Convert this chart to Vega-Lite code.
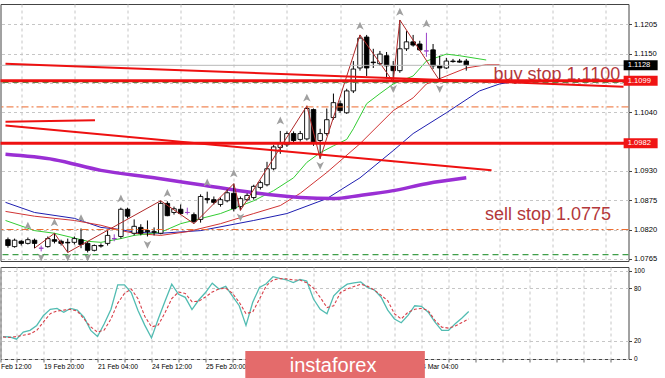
{
"$schema": "https://vega.github.io/schema/vega-lite/v6.json",
"padding": {"left": -1.5, "top": 3, "right": 0, "bottom": 0},
"spacing": 3,
"background": "white",
"datasets": {
"candles": [
{"i":0,"o":1.0801,"h":1.0805,"l":1.0786,"c":1.0790},
{"i":1,"o":1.0788,"h":1.0803,"l":1.0786,"c":1.0800},
{"i":2,"o":1.0798,"h":1.0800,"l":1.0790,"c":1.0794},
{"i":3,"o":1.0794,"h":1.0805,"l":1.0792,"c":1.0801},
{"i":4,"o":1.0800,"h":1.0803,"l":1.0785,"c":1.0794},
{"i":5,"o":1.0785,"h":1.0790,"l":1.0779,"c":1.0785},
{"i":6,"o":1.0788,"h":1.0807,"l":1.0786,"c":1.0803},
{"i":7,"o":1.0801,"h":1.0813,"l":1.0794,"c":1.0798},
{"i":8,"o":1.0798,"h":1.0801,"l":1.0790,"c":1.0794},
{"i":9,"o":1.0796,"h":1.0803,"l":1.0777,"c":1.0795},
{"i":10,"o":1.0796,"h":1.0807,"l":1.0792,"c":1.0803},
{"i":11,"o":1.0801,"h":1.0822,"l":1.0785,"c":1.0792},
{"i":12,"o":1.0794,"h":1.0798,"l":1.0777,"c":1.0781},
{"i":13,"o":1.0781,"h":1.0792,"l":1.0779,"c":1.0790},
{"i":14,"o":1.0790,"h":1.0794,"l":1.0786,"c":1.0789},
{"i":15,"o":1.0794,"h":1.0818,"l":1.0790,"c":1.0809},
{"i":16,"o":1.0803,"h":1.0811,"l":1.0798,"c":1.0803},
{"i":17,"o":1.0807,"h":1.0861,"l":1.0803,"c":1.0858},
{"i":18,"o":1.0858,"h":1.0861,"l":1.0841,"c":1.0845},
{"i":19,"o":1.0813,"h":1.0839,"l":1.0809,"c":1.0826},
{"i":20,"o":1.0824,"h":1.0830,"l":1.0809,"c":1.0813},
{"i":21,"o":1.0818,"h":1.0837,"l":1.0807,"c":1.0816},
{"i":22,"o":1.0816,"h":1.0824,"l":1.0809,"c":1.0815},
{"i":23,"o":1.0813,"h":1.0874,"l":1.0811,"c":1.0869},
{"i":24,"o":1.0869,"h":1.0873,"l":1.0845,"c":1.0846},
{"i":25,"o":1.0852,"h":1.0863,"l":1.0848,"c":1.0859},
{"i":26,"o":1.0858,"h":1.0867,"l":1.0848,"c":1.0850},
{"i":27,"o":1.0852,"h":1.0861,"l":1.0848,"c":1.0852},
{"i":28,"o":1.0848,"h":1.0852,"l":1.0831,"c":1.0835},
{"i":29,"o":1.0839,"h":1.0886,"l":1.0833,"c":1.0882},
{"i":30,"o":1.0878,"h":1.0891,"l":1.0869,"c":1.0876},
{"i":31,"o":1.0876,"h":1.0882,"l":1.0867,"c":1.0871},
{"i":32,"o":1.0867,"h":1.0880,"l":1.0863,"c":1.0876},
{"i":33,"o":1.0874,"h":1.0895,"l":1.0871,"c":1.0889},
{"i":34,"o":1.0888,"h":1.0906,"l":1.0854,"c":1.0859},
{"i":35,"o":1.0863,"h":1.0882,"l":1.0856,"c":1.0878},
{"i":36,"o":1.0876,"h":1.0888,"l":1.0873,"c":1.0884},
{"i":37,"o":1.0880,"h":1.0904,"l":1.0876,"c":1.0901},
{"i":38,"o":1.0899,"h":1.0912,"l":1.0895,"c":1.0908},
{"i":39,"o":1.0904,"h":1.0947,"l":1.0901,"c":1.0934},
{"i":40,"o":1.0934,"h":1.0979,"l":1.0931,"c":1.0975},
{"i":41,"o":1.0974,"h":1.1005,"l":1.0962,"c":1.0981},
{"i":42,"o":1.0979,"h":1.1004,"l":1.0975,"c":1.1000},
{"i":43,"o":1.1000,"h":1.1004,"l":1.0983,"c":1.0987},
{"i":44,"o":1.0989,"h":1.1005,"l":1.0985,"c":1.1000},
{"i":45,"o":1.0990,"h":1.1052,"l":1.0987,"c":1.1047},
{"i":46,"o":1.1045,"h":1.1047,"l":1.0977,"c":1.0983},
{"i":47,"o":1.0987,"h":1.1009,"l":1.0953,"c":1.1000},
{"i":48,"o":1.1000,"h":1.1047,"l":1.0996,"c":1.1026},
{"i":49,"o":1.1030,"h":1.1075,"l":1.1026,"c":1.1058},
{"i":50,"o":1.1056,"h":1.1062,"l":1.1039,"c":1.1043},
{"i":51,"o":1.1039,"h":1.1084,"l":1.1037,"c":1.1080},
{"i":52,"o":1.1080,"h":1.1136,"l":1.1076,"c":1.1121},
{"i":53,"o":1.1123,"h":1.1185,"l":1.1118,"c":1.1179},
{"i":54,"o":1.1181,"h":1.1185,"l":1.1108,"c":1.1123},
{"i":55,"o":1.1134,"h":1.1159,"l":1.1123,"c":1.1133},
{"i":56,"o":1.1131,"h":1.1155,"l":1.1127,"c":1.1149},
{"i":57,"o":1.1146,"h":1.1153,"l":1.1103,"c":1.1127},
{"i":58,"o":1.1127,"h":1.1136,"l":1.1097,"c":1.1118},
{"i":59,"o":1.1118,"h":1.1213,"l":1.1114,"c":1.1159},
{"i":60,"o":1.1159,"h":1.1192,"l":1.1155,"c":1.1172},
{"i":61,"o":1.1172,"h":1.1185,"l":1.1163,"c":1.1166},
{"i":62,"o":1.1168,"h":1.1174,"l":1.1155,"c":1.1157},
{"i":63,"o":1.1155,"h":1.1189,"l":1.1144,"c":1.1155},
{"i":64,"o":1.1157,"h":1.1168,"l":1.1121,"c":1.1127},
{"i":65,"o":1.1127,"h":1.1146,"l":1.1099,"c":1.1123},
{"i":66,"o":1.1123,"h":1.1142,"l":1.1121,"c":1.1136},
{"i":67,"o":1.1136,"h":1.1140,"l":1.1133,"c":1.1135},
{"i":68,"o":1.1136,"h":1.1140,"l":1.1133,"c":1.1134},
{"i":69,"o":1.1136,"h":1.1140,"l":1.1118,"c":1.1128}
],
"alligator": [
{"s":"jaw","i":-0.37,"p":1.0871},{"s":"jaw","i":4,"p":1.0852},{"s":"jaw","i":10,"p":1.0841},{"s":"jaw","i":14,"p":1.0824},{"s":"jaw","i":17,"p":1.0820},{"s":"jaw","i":19,"p":1.0815},{"s":"jaw","i":23,"p":1.0813},{"s":"jaw","i":29,"p":1.0818},{"s":"jaw","i":37,"p":1.0837},{"s":"jaw","i":42,"p":1.0850},{"s":"jaw","i":48,"p":1.0878},{"s":"jaw","i":53,"p":1.0917},{"s":"jaw","i":58,"p":1.0968},{"s":"jaw","i":61,"p":1.1000},{"s":"jaw","i":66,"p":1.1039},{"s":"jaw","i":71,"p":1.1080},{"s":"jaw","i":74,"p":1.1093},{"s":"jaw","i":76,"p":1.1097},
{"s":"teeth","i":-0.37,"p":1.0854},{"s":"teeth","i":4,"p":1.0845},{"s":"teeth","i":10,"p":1.0837},{"s":"teeth","i":14,"p":1.0828},{"s":"teeth","i":17,"p":1.0818},{"s":"teeth","i":19,"p":1.0813},{"s":"teeth","i":23,"p":1.0809},{"s":"teeth","i":27,"p":1.0816},{"s":"teeth","i":32,"p":1.0831},{"s":"teeth","i":37,"p":1.0850},{"s":"teeth","i":41,"p":1.0865},{"s":"teeth","i":44,"p":1.0888},{"s":"teeth","i":48,"p":1.0927},{"s":"teeth","i":53,"p":1.0981},{"s":"teeth","i":58,"p":1.1043},{"s":"teeth","i":61,"p":1.1067},{"s":"teeth","i":63,"p":1.1093},{"s":"teeth","i":66,"p":1.1108},{"s":"teeth","i":69,"p":1.1123},{"s":"teeth","i":72,"p":1.1129},{"s":"teeth","i":74,"p":1.1129},
{"s":"lips","i":-0.37,"p":1.0837},{"s":"lips","i":4,"p":1.0818},{"s":"lips","i":7,"p":1.0813},{"s":"lips","i":12,"p":1.0798},{"s":"lips","i":14,"p":1.0796},{"s":"lips","i":17,"p":1.0803},{"s":"lips","i":19,"p":1.0809},{"s":"lips","i":23,"p":1.0815},{"s":"lips","i":26,"p":1.0831},{"s":"lips","i":32,"p":1.0850},{"s":"lips","i":37,"p":1.0874},{"s":"lips","i":40,"p":1.0893},{"s":"lips","i":43,"p":1.0917},{"s":"lips","i":45,"p":1.0946},{"s":"lips","i":47,"p":1.0964},{"s":"lips","i":49,"p":1.0977},{"s":"lips","i":51,"p":1.0989},{"s":"lips","i":52,"p":1.1009},{"s":"lips","i":54,"p":1.1056},{"s":"lips","i":56,"p":1.1075},{"s":"lips","i":58,"p":1.1093},{"s":"lips","i":61,"p":1.1108},{"s":"lips","i":63,"p":1.1136},{"s":"lips","i":66,"p":1.1149},{"s":"lips","i":68,"p":1.1146},{"s":"lips","i":72,"p":1.1138}
],
"ma": [
{"i":-0.37,"p":1.0961},{"i":7,"p":1.0951},{"i":14,"p":1.0931},{"i":22,"p":1.0917},{"i":29,"p":1.0904},{"i":37,"p":1.0889},{"i":44,"p":1.0880},{"i":49,"p":1.0878},{"i":53,"p":1.0884},{"i":58,"p":1.0893},{"i":63,"p":1.0906},{"i":69,"p":1.0917}
],
"zigzag": [
{"i":4,"p":1.0785},{"i":7,"p":1.0813},{"i":9,"p":1.0777},{"i":23,"p":1.0874},{"i":28,"p":1.0831},{"i":34,"p":1.0906},{"i":35,"p":1.0856},{"i":45,"p":1.1052},{"i":47,"p":1.0953},{"i":53,"p":1.1185},{"i":58,"p":1.1097},{"i":59,"p":1.1213},{"i":65,"p":1.1099}
],
"fractals": [
{"i":3,"p":1.0827,"dir":"up"},{"i":7,"p":1.0833,"dir":"up"},{"i":11,"p":1.0841,"dir":"up"},{"i":17,"p":1.0878,"dir":"up"},{"i":24,"p":1.0888,"dir":"up"},{"i":30,"p":1.0908,"dir":"up"},{"i":34,"p":1.0925,"dir":"up"},{"i":41,"p":1.1024,"dir":"up"},{"i":45,"p":1.1067,"dir":"up"},{"i":53,"p":1.1202,"dir":"up"},{"i":59,"p":1.1228,"dir":"up"},{"i":63,"p":1.1206,"dir":"up"},
{"i":5,"p":1.0768,"dir":"down"},{"i":9,"p":1.0768,"dir":"down"},{"i":12,"p":1.0768,"dir":"down"},{"i":21,"p":1.0792,"dir":"down"},{"i":35,"p":1.0843,"dir":"down"},{"i":47,"p":1.0940,"dir":"down"},{"i":58,"p":1.1084,"dir":"down"},{"i":65,"p":1.1084,"dir":"down"}
],
"levels": [
{"p":1.1128,"k":"bid"},{"p":1.1096,"k":"green"},{"p":1.0773,"k":"green"},{"p":1.1050,"k":"orange"},{"p":1.0820,"k":"orange"},{"p":1.1099,"k":"red"},{"p":1.0982,"k":"red"}
],
"trend": [
{"i":-0.37,"p":1.1131,"i2":92.67,"p2":1.1088},
{"i":-0.37,"p":1.1015,"i2":72.8,"p2":1.0931},
{"i":-0.37,"p":1.1022,"i2":13.1,"p2":1.1025}
],
"notes": [
{"i":73.1,"p":1.1100,"t":"buy stop 1.1100"},
{"i":71.8,"p":1.0837,"t":"sell stop 1.0775"}
],
"boxes": [
{"p":1.1128,"t":"1.1128"},{"p":1.1099,"t":"1.1099"},{"p":1.0982,"t":"1.0982"}
],
"stoch": [
{"i":0,"m":25,"s":24.5},{"i":1,"m":24.5,"s":24},{"i":2,"m":22,"s":25},{"i":3,"m":30,"s":26.5},{"i":4,"m":32,"s":28},{"i":5,"m":37.6,"s":32},{"i":6,"m":49,"s":41.6},{"i":7,"m":56,"s":51},{"i":8,"m":57,"s":54},{"i":9,"m":52.6,"s":55},
{"i":10,"m":57,"s":56},{"i":11,"m":55,"s":54},{"i":12,"m":47,"s":45},{"i":13,"m":32,"s":36},{"i":14,"m":25,"s":30},{"i":15,"m":39.5,"s":32.5},{"i":16,"m":56,"s":45},{"i":17,"m":83.7,"s":63},{"i":18,"m":83.7,"s":74},{"i":19,"m":75,"s":79},
{"i":20,"m":54.5,"s":68},{"i":21,"m":38,"s":48},{"i":22,"m":23.4,"s":36},{"i":23,"m":45,"s":38},{"i":24,"m":65,"s":52},{"i":25,"m":84.5,"s":68},{"i":26,"m":73,"s":75.6},{"i":27,"m":69.5,"s":74},{"i":28,"m":55.6,"s":64.6},{"i":29,"m":66.5,"s":65},
{"i":30,"m":75,"s":70},{"i":31,"m":85.6,"s":75.6},{"i":32,"m":79,"s":79},{"i":33,"m":82,"s":80},{"i":34,"m":71,"s":74},{"i":35,"m":60,"s":64},{"i":36,"m":37.6,"s":51},{"i":37,"m":64,"s":53},{"i":38,"m":80.7,"s":67.6},{"i":39,"m":85,"s":82.6},
{"i":40,"m":93,"s":89.3},{"i":41,"m":91,"s":90.8},{"i":42,"m":89.5,"s":90.5},{"i":43,"m":86.3,"s":89.3},{"i":44,"m":90,"s":89.3},{"i":45,"m":88,"s":86},{"i":46,"m":67.6,"s":80},{"i":47,"m":56,"s":69.4},{"i":48,"m":50.8,"s":58},{"i":49,"m":71.3,"s":60},
{"i":50,"m":79,"s":75},{"i":51,"m":84.5,"s":79},{"i":52,"m":86,"s":81.8},{"i":53,"m":87,"s":84.5},{"i":54,"m":80.7,"s":82},{"i":55,"m":78,"s":78},{"i":56,"m":70,"s":72},{"i":57,"m":55,"s":65.7},{"i":58,"m":45,"s":50.8},{"i":59,"m":40.7,"s":45},
{"i":60,"m":49,"s":52.6},{"i":61,"m":60,"s":56},{"i":62,"m":59.3,"s":57},{"i":63,"m":52.6,"s":54.5},{"i":64,"m":41.3,"s":43.3},{"i":65,"m":32,"s":35.7},{"i":66,"m":32,"s":34.6},{"i":67,"m":39.5,"s":36.9},{"i":68,"m":46,"s":41},{"i":69,"m":53.4,"s":45}
],
"logo": [{"t":"instaforex"}]
},
"vconcat": [
{
"width": 628, "height": 257,
"encoding": {
"y": {"field": "p", "type": "quantitative", "scale": {"domain": [1.0761, 1.1243], "nice": false, "zero": false},
"axis": {"orient": "right", "values": [1.0765, 1.082, 1.0875, 1.093, 1.0985, 1.104, 1.1095, 1.115, 1.1205], "labelExpr": "(datum.value > 1.0984 && datum.value < 1.0986) || (datum.value > 1.1094 && datum.value < 1.1096) ? '' : format(datum.value, '.4f')", "title": null, "grid": true, "gridColor": "#c6c6c6", "gridDash": [3, 3], "tickSize": 3, "tickColor": "#444", "labelPadding": 2, "labelFontSize": 7.6, "labelFont": "Liberation Sans", "labelColor": "#000", "domain": false, "labelOverlap": false, "labelFlush": false}}
},
"layer": [
{"data": {"name": "alligator"}, "mark": {"type": "line", "strokeWidth": 1, "clip": true},
"encoding": {
"x": {"field": "i", "type": "quantitative", "scale": {"domain": [-0.37, 92.67], "nice": false, "zero": false},
"axis": {"values": [2, 6, 10, 14, 18, 22, 26, 30, 34, 38, 42, 46, 50, 54, 58, 62, 66, 70, 74, 78, 82, 86, 90], "labels": false, "ticks": false, "domain": false, "grid": true, "gridColor": "#c6c6c6", "gridDash": [3, 3], "title": null}},
"color": {"field": "s", "type": "nominal", "scale": {"domain": ["jaw", "teeth", "lips"], "range": ["#1e1eb0", "#d03434", "#33cc33"]}, "legend": null}}},
{"data": {"name": "ma"}, "mark": {"type": "line", "strokeWidth": 3.5, "color": "#9a2fd4", "interpolate": "monotone", "clip": true},
"encoding": {"x": {"field": "i", "type": "quantitative", "scale": {"domain": [-0.37, 92.67]}}}},
{"data": {"name": "candles"}, "mark": {"type": "rule", "strokeWidth": 1},
"encoding": {"x": {"field": "i", "type": "quantitative", "scale": {"domain": [-0.37, 92.67]}},
"y": {"field": "l", "type": "quantitative", "scale": {"domain": [1.0761, 1.1243]}},
"y2": {"field": "h"},
"color": {"condition": {"test": "datum.o == datum.c", "value": "#9a40c8"}, "value": "#000000"}}},
{"data": {"name": "candles"}, "mark": {"type": "bar", "size": 4.5, "strokeWidth": 0.9},
"encoding": {"x": {"field": "i", "type": "quantitative", "scale": {"domain": [-0.37, 92.67]}},
"y": {"field": "o", "type": "quantitative", "scale": {"domain": [1.0761, 1.1243]}},
"y2": {"field": "c"},
"fill": {"condition": [{"test": "datum.o == datum.c", "value": "#9a40c8"}, {"test": "datum.c > datum.o", "value": "#ffffff"}], "value": "#000000"},
"stroke": {"condition": {"test": "datum.o == datum.c", "value": "#9a40c8"}, "value": "#000000"}}},
{"data": {"name": "zigzag"}, "mark": {"type": "line", "strokeWidth": 1, "color": "#b02828"},
"encoding": {"x": {"field": "i", "type": "quantitative", "scale": {"domain": [-0.37, 92.67]}}}},
{"data": {"name": "fractals"}, "mark": {"type": "point", "filled": true, "size": 70, "color": "#a0a0a0", "opacity": 1},
"encoding": {"x": {"field": "i", "type": "quantitative", "scale": {"domain": [-0.37, 92.67]}},
"shape": {"field": "dir", "type": "nominal", "scale": {"domain": ["up", "down"], "range": ["M0,-1L0.9,0.9L0,0.4L-0.9,0.9Z", "M0,1L0.9,-0.9L0,-0.4L-0.9,-0.9Z"]}, "legend": null}}},
{"data": {"name": "notes"}, "mark": {"type": "text", "align": "left", "baseline": "alphabetic", "font": "Liberation Sans", "fontSize": 18, "color": "#b3383b"},
"encoding": {"x": {"field": "i", "type": "quantitative", "scale": {"domain": [-0.37, 92.67]}}, "text": {"field": "t"}}},
{"data": {"name": "levels"}, "transform": [{"filter": "datum.k == 'bid'"}], "mark": {"type": "rule", "color": "#b8b8b8", "strokeWidth": 1}, "encoding": {}},
{"data": {"name": "levels"}, "transform": [{"filter": "datum.k == 'orange'"}], "mark": {"type": "rule", "color": "#ec6a2c", "strokeWidth": 1, "strokeDash": [7, 3, 2, 3]}, "encoding": {}},
{"data": {"name": "levels"}, "transform": [{"filter": "datum.k == 'green'"}], "mark": {"type": "rule", "color": "#3f9e4a", "strokeWidth": 1.3, "strokeDash": [6, 4]}, "encoding": {}},
{"data": {"name": "levels"}, "transform": [{"filter": "datum.k == 'red'"}], "mark": {"type": "rule", "color": "#ee1111", "strokeWidth": 3}, "encoding": {}},
{"data": {"name": "trend"}, "mark": {"type": "rule", "color": "#ee1111", "strokeWidth": 2},
"encoding": {"x": {"field": "i", "type": "quantitative", "scale": {"domain": [-0.37, 92.67]}}, "x2": {"field": "i2"}, "y2": {"field": "p2"}}},
{"data": {"name": "boxes"}, "mark": {"type": "tick", "orient": "horizontal", "size": 34, "thickness": 10, "opacity": 1},
"encoding": {"x": {"datum": 95.25, "type": "quantitative", "scale": {"domain": [-0.37, 92.67]}},
"color": {"condition": {"test": "datum.p == 1.1128", "value": "#000000"}, "value": "#f01414"}}},
{"data": {"name": "boxes"}, "mark": {"type": "text", "align": "left", "baseline": "middle", "font": "Liberation Sans", "fontSize": 7.6, "color": "#ffffff"},
"encoding": {"x": {"datum": 93.3, "type": "quantitative", "scale": {"domain": [-0.37, 92.67]}}, "text": {"field": "t"}}}
]
},
{
"width": 628, "height": 92,
"layer": [
{"data": {"name": "stoch"}, "mark": {"type": "line", "strokeWidth": 1.3, "color": "#52bcb2"},
"encoding": {
"x": {"field": "i", "type": "quantitative", "scale": {"domain": [-0.37, 92.67], "nice": false, "zero": false},
"axis": {"values": [-0.37, 2, 6, 10, 14, 18, 22, 26, 30, 34, 38, 42, 46, 50, 54, 58, 62, 66, 70, 74, 78, 82, 86, 90],
"labelExpr": "datum.value < 0 ? 'Feb 12:00' : datum.value == 6 ? '19 Feb 20:00' : datum.value == 14 ? '21 Feb 04:00' : datum.value == 22 ? '24 Feb 12:00' : datum.value == 30 ? '25 Feb 20:00' : datum.value == 62 ? '4 Mar 04:00' : ''",
"labelAlign": "left", "labelBaseline": "top", "labelPadding": 1, "tickSize": 3, "tickColor": "#666", "labelFontSize": 6.8, "labelFont": "Liberation Sans", "labelColor": "#000", "labelOverlap": false, "labelFlush": false, "labelBound": false, "domain": false, "grid": true, "gridColor": "#c6c6c6", "gridDash": [3, 3], "title": null}},
"y": {"field": "m", "type": "quantitative", "scale": {"domain": [-0.5, 104], "nice": false, "zero": false},
"axis": {"orient": "right", "values": [0, 20, 80, 100], "title": null, "grid": true, "gridColor": "#c6c6c6", "gridDash": [3, 3], "tickSize": 3, "tickColor": "#444", "labelPadding": 2, "labelFontSize": 6.5, "labelFont": "Liberation Sans", "labelColor": "#000", "domain": false, "labelFlush": false}}}},
{"data": {"name": "stoch"}, "mark": {"type": "line", "strokeWidth": 1.1, "color": "#d8404a", "strokeDash": [3, 2]},
"encoding": {
"x": {"field": "i", "type": "quantitative", "scale": {"domain": [-0.37, 92.67], "nice": false, "zero": false},
"axis": {"values": [-0.37, 2, 6, 10, 14, 18, 22, 26, 30, 34, 38, 42, 46, 50, 54, 58, 62, 66, 70, 74, 78, 82, 86, 90],
"labelExpr": "datum.value < 0 ? 'Feb 12:00' : datum.value == 6 ? '19 Feb 20:00' : datum.value == 14 ? '21 Feb 04:00' : datum.value == 22 ? '24 Feb 12:00' : datum.value == 30 ? '25 Feb 20:00' : datum.value == 62 ? '4 Mar 04:00' : ''",
"labelAlign": "left", "labelBaseline": "top", "labelPadding": 1, "tickSize": 3, "tickColor": "#666", "labelFontSize": 6.8, "labelFont": "Liberation Sans", "labelColor": "#000", "labelOverlap": false, "labelFlush": false, "labelBound": false, "domain": false, "grid": true, "gridColor": "#c6c6c6", "gridDash": [3, 3], "title": null}},
"y": {"field": "s", "type": "quantitative", "scale": {"domain": [-0.5, 104], "nice": false, "zero": false},
"axis": {"orient": "right", "values": [0, 20, 80, 100], "title": null, "grid": true, "gridColor": "#c6c6c6", "gridDash": [3, 3], "tickSize": 3, "tickColor": "#444", "labelPadding": 2, "labelFontSize": 6.5, "labelFont": "Liberation Sans", "labelColor": "#000", "domain": false, "labelFlush": false}}}},
{"data": {"name": "logo"}, "mark": {"type": "rect", "color": "#e46b6b", "opacity": 1},
"encoding": {
"x": {"datum": 35.9, "type": "quantitative", "scale": {"domain": [-0.37, 92.67], "nice": false, "zero": false},
"axis": {"values": [-0.37, 2, 6, 10, 14, 18, 22, 26, 30, 34, 38, 42, 46, 50, 54, 58, 62, 66, 70, 74, 78, 82, 86, 90],
"labelExpr": "datum.value < 0 ? 'Feb 12:00' : datum.value == 6 ? '19 Feb 20:00' : datum.value == 14 ? '21 Feb 04:00' : datum.value == 22 ? '24 Feb 12:00' : datum.value == 30 ? '25 Feb 20:00' : datum.value == 62 ? '4 Mar 04:00' : ''",
"labelAlign": "left", "labelBaseline": "top", "labelPadding": 1, "tickSize": 3, "tickColor": "#666", "labelFontSize": 6.8, "labelFont": "Liberation Sans", "labelColor": "#000", "labelOverlap": false, "labelFlush": false, "labelBound": false, "domain": false, "grid": true, "gridColor": "#c6c6c6", "gridDash": [3, 3], "title": null}},
"x2": {"datum": 62.5},
"y": {"datum": 8.5, "type": "quantitative", "scale": {"domain": [-0.5, 104], "nice": false, "zero": false},
"axis": {"orient": "right", "values": [0, 20, 80, 100], "title": null, "grid": true, "gridColor": "#c6c6c6", "gridDash": [3, 3], "tickSize": 3, "tickColor": "#444", "labelPadding": 2, "labelFontSize": 6.5, "labelFont": "Liberation Sans", "labelColor": "#000", "domain": false, "labelFlush": false}},
"y2": {"datum": -26.7}}},
{"data": {"name": "logo"}, "mark": {"type": "text", "align": "center", "baseline": "alphabetic", "font": "Liberation Sans", "fontSize": 20, "color": "#ffffff"},
"encoding": {
"x": {"datum": 48.9, "type": "quantitative", "scale": {"domain": [-0.37, 92.67], "nice": false, "zero": false},
"axis": {"values": [-0.37, 2, 6, 10, 14, 18, 22, 26, 30, 34, 38, 42, 46, 50, 54, 58, 62, 66, 70, 74, 78, 82, 86, 90],
"labelExpr": "datum.value < 0 ? 'Feb 12:00' : datum.value == 6 ? '19 Feb 20:00' : datum.value == 14 ? '21 Feb 04:00' : datum.value == 22 ? '24 Feb 12:00' : datum.value == 30 ? '25 Feb 20:00' : datum.value == 62 ? '4 Mar 04:00' : ''",
"labelAlign": "left", "labelBaseline": "top", "labelPadding": 1, "tickSize": 3, "tickColor": "#666", "labelFontSize": 6.8, "labelFont": "Liberation Sans", "labelColor": "#000", "labelOverlap": false, "labelFlush": false, "labelBound": false, "domain": false, "grid": true, "gridColor": "#c6c6c6", "gridDash": [3, 3], "title": null}},
"y": {"datum": -15.3, "type": "quantitative", "scale": {"domain": [-0.5, 104], "nice": false, "zero": false},
"axis": {"orient": "right", "values": [0, 20, 80, 100], "title": null, "grid": true, "gridColor": "#c6c6c6", "gridDash": [3, 3], "tickSize": 3, "tickColor": "#444", "labelPadding": 2, "labelFontSize": 6.5, "labelFont": "Liberation Sans", "labelColor": "#000", "domain": false, "labelFlush": false}},
"text": {"field": "t"}}}
]
}
],
"config": {"view": {"stroke": "#444444", "strokeWidth": 1}}
}
